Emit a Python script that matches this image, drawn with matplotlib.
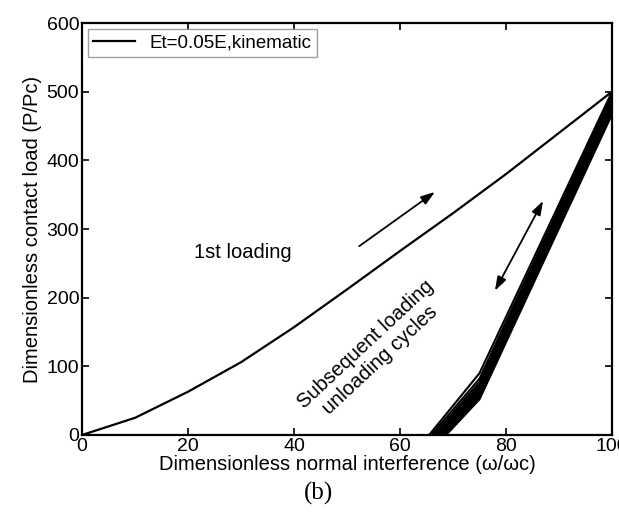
import matplotlib
matplotlib.use("Agg")
import matplotlib.pyplot as plt

# ── Data ─────────────────────────────────────────────────────────────────────

# first loading curve
load_x = [0, 10, 20, 30, 40, 50, 60, 70, 80, 90, 100]
load_y = [0, 25, 63, 106, 157, 212, 268, 323, 380, 440, 500]

# subsequent loading / unloading cycles: (start, knee at 75, end at 100)
cycle_x0 = [65.5, 65.9, 66.3, 66.6, 66.9, 67.2, 67.5, 67.8, 68.1, 68.4, 68.7]
cycle_xk = [75, 75, 75, 75, 75, 75, 75, 75, 75, 75, 75]
cycle_yk = [90, 82, 77, 73, 70, 67, 64, 61, 58, 55, 52]
cycle_x1 = [100, 100, 100, 100, 100, 100, 100, 100, 100, 100, 100]
cycle_y1 = [500, 496, 493, 490, 487, 484, 481, 478, 475, 471, 467]

legend_label = "Et=0.05E,kinematic"

plt.rcParams["font.family"] = ["Liberation Sans", "DejaVu Sans"]

fig = plt.figure(figsize=(6.19, 5.16), dpi=100)
ax = fig.add_axes([0.1325, 0.157, 0.8562, 0.7984])

ax.plot(load_x, load_y, color="black", lw=1.6, label=legend_label)
for x0, xk, yk, x1, y1 in zip(cycle_x0, cycle_xk, cycle_yk, cycle_x1, cycle_y1):
    ax.plot([x0, xk, x1], [0, yk, y1], color="black", lw=1.5)

ax.set_xlim(0, 100)
ax.set_ylim(0, 600)
ax.set_xticks([0, 20, 40, 60, 80, 100])
ax.set_yticks([0, 100, 200, 300, 400, 500, 600])
ax.tick_params(direction="in", length=5, width=1.2, labelsize=14,
               top=True, right=True, pad=2)
for s in ax.spines.values():
    s.set_linewidth(1.6)

ax.set_xlabel("Dimensionless normal interference (\u03c9/\u03c9c)", fontsize=14.5, labelpad=0)
ax.set_ylabel("Dimensionless contact load (P/Pc)", fontsize=14.5, labelpad=3)

leg = ax.legend(loc="upper left", fontsize=13.5, frameon=True, fancybox=False,
                handlelength=2.2, borderaxespad=0.3, borderpad=0.3)
leg.get_frame().set_edgecolor("#888888")
leg.get_frame().set_linewidth(1.0)

ax.text(30.4, 266, "1st loading", fontsize=14.5, ha="center", va="center")
ax.text(54.8, 121, "Subsequent loading\nunloading cycles", fontsize=14.5,
        ha="center", va="center", rotation=43, linespacing=1.15)

ax.annotate("", xy=(66.6, 354), xytext=(52.3, 275),
            arrowprops=dict(arrowstyle="-|>,head_length=0.6,head_width=0.2",
                            color="black", lw=1.3, mutation_scale=14,
                            shrinkA=0, shrinkB=0))
ax.annotate("", xy=(87.0, 341), xytext=(77.9, 210),
            arrowprops=dict(arrowstyle="<|-|>,head_length=0.6,head_width=0.2",
                            color="black", lw=1.3, mutation_scale=14,
                            shrinkA=0, shrinkB=0))

fig.text(0.514, 0.022, "(b)", fontsize=18, ha="center", va="bottom",
         family=["Liberation Serif", "DejaVu Serif"])

fig.savefig("out.png", dpi=100)
plt.close(fig)
